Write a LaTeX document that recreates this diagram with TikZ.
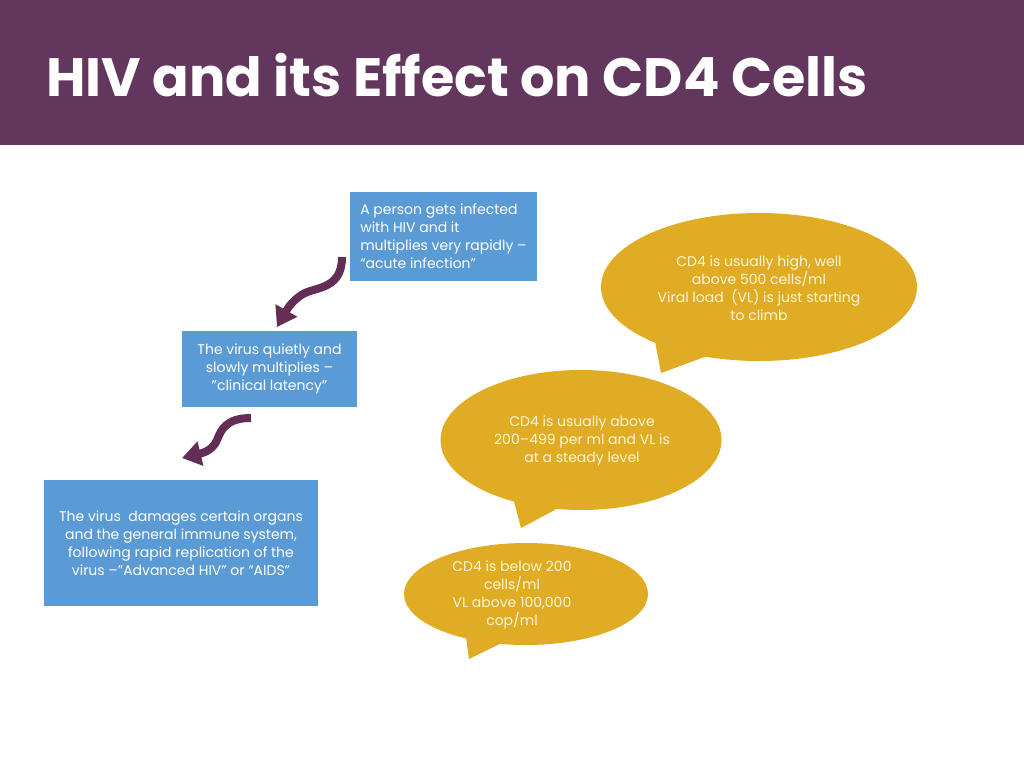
\documentclass[tikz,border=0pt]{standalone}
\usepackage{fontspec}
\setmainfont{Poppins}
\usetikzlibrary{arrows.meta,shapes.geometric}
\definecolor{hdr}{RGB}{99,55,93}
\definecolor{boxblue}{RGB}{91,155,213}
\definecolor{gold}{RGB}{223,172,36}
\definecolor{arrowpurple}{RGB}{99,45,85}
\definecolor{cream}{RGB}{255,244,214}
\begin{document}
\begin{tikzpicture}[x=1pt,y=-1pt,
  bodyfont/.style={font=\fontsize{14}{18}\selectfont},
  stepbox/.style={fill=boxblue, draw=none, text=white, bodyfont, inner sep=0pt},
  bubble/.style={ellipse, fill=gold, draw=none, inner sep=0pt},
  bubbletext/.style={text=cream, bodyfont, align=center, inner sep=0pt},
  tail/.style={fill=gold, draw=none},
  flow/.style={draw=arrowpurple, line width=8pt, -{Triangle[length=19pt,width=24pt]}}
]
\useasboundingbox (0,0) rectangle (1024,768);
\fill[white] (0,0) rectangle (1024,768);
\fill[hdr] (0,0) rectangle (1024,145);
\node[anchor=west, text=white, inner sep=0pt, font=\fontsize{54}{60}\selectfont\bfseries] (title) at (46,75) {HIV and its Effect on CD4 Cells};

% step boxes
\node[stepbox, minimum width=187pt, minimum height=89pt, align=left] (b1) at (443.5,236.5)
  {A person gets infected\\with HIV and it\\multiplies very rapidly --\\``acute infection''};
\node[stepbox, minimum width=175pt, minimum height=76pt, align=center] (b2) at (269.5,369)
  {The virus quietly and\\slowly multiplies --\\''clinical latency''};
\node[stepbox, minimum width=274pt, minimum height=126pt, align=center] (b3) at (181,543)
  {The virus\ \ damages certain organs\\and the general immune system,\\following rapid replication of the\\virus --''Advanced HIV'' or ``AIDS''};

% callouts
\node[bubble, minimum width=316pt, minimum height=148pt] (c1) at (759,287) {};
\fill[tail] (654,336) -- (661,373) -- (718,352) -- cycle;
\node[bubbletext] (c1t) at (759,288.5)
  {CD4 is usually high, well\\above 500 cells/ml\\Viral load\ \ (VL) is just starting\\to climb};

\node[bubble, minimum width=281pt, minimum height=140pt] (c2) at (581,440) {};
\fill[tail] (512,494) -- (521,528) -- (566,504) -- cycle;
\node[bubbletext] (c2t) at (582,441)
  {CD4 is usually above\\200--499 per ml and VL is\\at a steady level};

\node[bubble, minimum width=244pt, minimum height=102pt] (c3) at (526,594) {};
\fill[tail] (465,630) -- (469,659) -- (512,638) -- cycle;
\node[bubbletext] (c3t) at (512,594.5)
  {CD4 is below 200\\cells/ml\\VL above 100,000\\cop/ml};

% curved arrows
\coordinate (a1s) at (342,257);
\coordinate (a1e) at (277,327);
\draw[flow] (a1s) .. controls (342,288) and (318,287) .. (305,293) .. controls (295,298) and (289,306) .. (a1e);
\coordinate (a2s) at (251,418);
\coordinate (a2e) at (182,458);
\draw[flow] (a2s) .. controls (226,418) and (221,430) .. (217,440) .. controls (213,450) and (203,453) .. (a2e);
\end{tikzpicture}
\end{document}
